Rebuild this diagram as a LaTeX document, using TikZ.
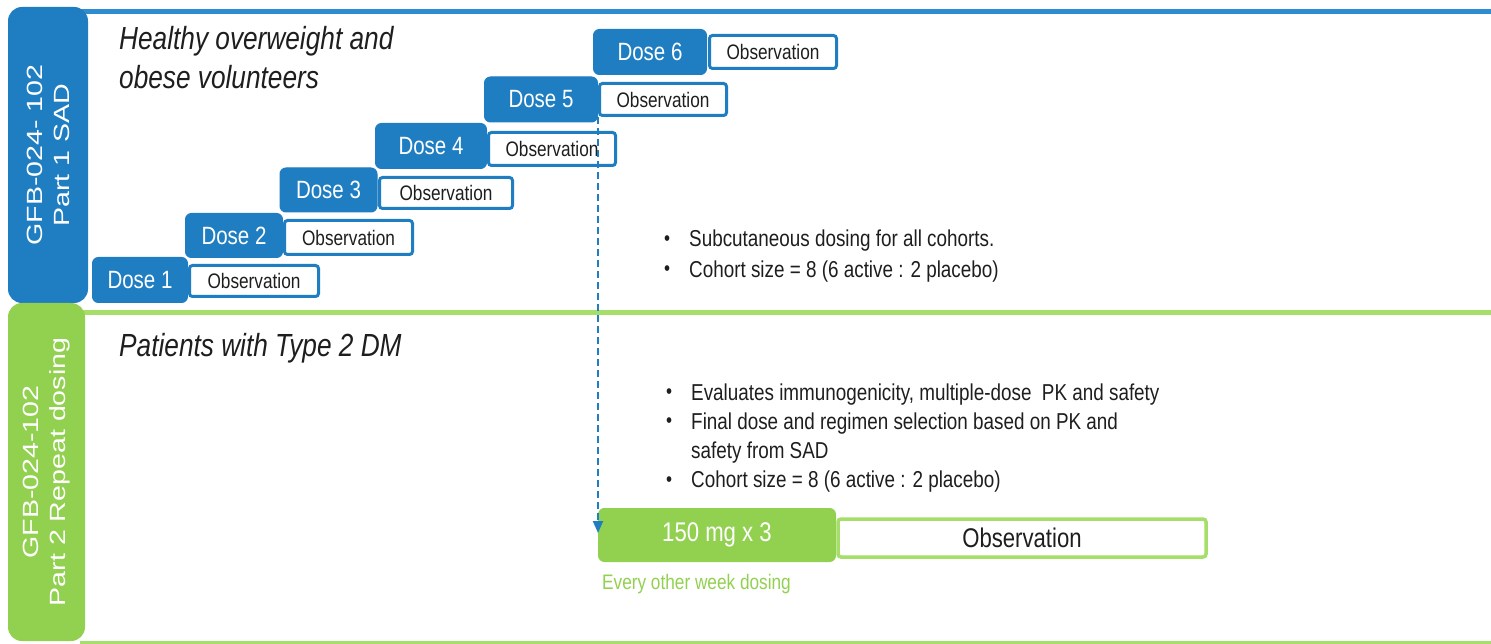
\documentclass[tikz,border=0pt]{standalone}
\usepackage{fontspec}
\setmainfont{Liberation Sans}[FakeStretch=0.82]
\newfontfamily\vertfont{Liberation Sans}[FakeStretch=1.3]
\usetikzlibrary{arrows.meta}
\definecolor{tabblue}{RGB}{31,125,193}
\definecolor{lineblue}{RGB}{45,140,210}
\definecolor{tabgreen}{RGB}{146,208,80}
\definecolor{linegreen}{RGB}{165,222,105}
\definecolor{txtgray}{RGB}{30,30,30}
\newcommand{\bul}{\raisebox{1.5pt}{\fontsize{21}{21}\selectfont\textbullet}}
\begin{document}
\begin{tikzpicture}[x=1pt,y=-1pt,
  tab/.style={rotate=90, rounded corners=14pt, inner sep=0pt, text=white, align=center,
    font=\vertfont\fontsize{22}{27}\selectfont},
  dosebox/.style={fill=tabblue, draw=tabblue, line width=1pt, rounded corners=6pt,
    inner sep=0pt, text=white, font=\fontsize{25}{25}\selectfont},
  obsbox/.style={fill=white, draw=tabblue, line width=3pt, rounded corners=3pt,
    inner sep=0pt, text=txtgray, font=\fontsize{21}{21}\selectfont},
  title/.style={anchor=base west, inner sep=0pt, text=txtgray,
    font=\fontsize{32}{39}\selectfont\itshape},
  bullets/.style={anchor=base west, inner sep=0pt, text=txtgray},
  dasharrow/.style={draw=tabblue, line width=2pt, dash pattern=on 7pt off 4pt,
    -{Triangle[length=12pt,width=10pt]}},
]
\useasboundingbox (0,0) rectangle (1491,644);

% separator lines
\draw[lineblue, line width=4.5pt] (80,11.5) -- (1491,11.5);
\draw[linegreen, line width=5pt] (80,313) -- (1491,313);
\draw[linegreen, line width=3pt] (80,642.5) -- (1491,642.5);

% side tabs
\node[tab, fill=tabblue, minimum width=296pt, minimum height=80pt] (tabA) at (48,155)
  {GFB-024- 102\\Part 1 SAD};
\node[tab, fill=tabgreen, minimum width=338pt, minimum height=77pt] (tabB) at (46.5,472)
  {GFB-024-102\\Part 2 Repeat dosing};

% titles
\node[title] (t1) at (119,50)
  {\begin{tabular}[t]{@{}l@{}}Healthy overweight and\\obese volunteers\end{tabular}};
\node[title] (t2) at (119,356) {Patients with Type 2 DM};

% observation boxes (part 1)
\node[obsbox, minimum width=129pt, minimum height=31pt] (o1) at (254,281) {Observation};
\node[obsbox, minimum width=128pt, minimum height=34pt] (o2) at (348.5,237.5) {Observation};
\node[obsbox, minimum width=133pt, minimum height=31pt] (o3) at (446,193) {Observation};
\node[obsbox, minimum width=127pt, minimum height=33pt] (o4) at (552,149) {Observation};
\node[obsbox, minimum width=127pt, minimum height=32pt] (o5) at (663,99.5) {Observation};
\node[obsbox, minimum width=127pt, minimum height=33pt] (o6) at (773,52) {Observation};

% dose boxes
\node[dosebox, minimum width=95pt, minimum height=45pt] (d1) at (140,280) {Dose 1};
\node[dosebox, minimum width=97pt, minimum height=44pt] (d2) at (234,235.5) {Dose 2};
\node[dosebox, minimum width=97pt, minimum height=44pt] (d3) at (328.5,190) {Dose 3};
\node[dosebox, minimum width=111pt, minimum height=45pt] (d4) at (431,146) {Dose 4};
\node[dosebox, minimum width=113pt, minimum height=45pt] (d5) at (541,99.5) {Dose 5};
\node[dosebox, minimum width=113pt, minimum height=45pt] (d6) at (650,52) {Dose 6};

% bullet texts
\node[bullets, font=\fontsize{23}{30.5}\selectfont] (b1) at (664,247)
  {\begin{tabular}[t]{@{}l@{\hspace{19pt}}l@{}}
   \bul & Subcutaneous dosing for all cohorts.\\
   \bul & Cohort size = 8 (6 active : 2 placebo)
   \end{tabular}};
\node[bullets, font=\fontsize{23}{29.3}\selectfont] (b2) at (666,400)
  {\begin{tabular}[t]{@{}l@{\hspace{19pt}}l@{}}
   \bul & Evaluates immunogenicity, multiple-dose\ \ PK and safety\\
   \bul & Final dose and regimen selection based on PK and\\
        & safety from SAD\\
   \bul & Cohort size = 8 (6 active : 2 placebo)
   \end{tabular}};

% part 2 boxes
\node[fill=white, draw=linegreen, line width=3.5pt, rounded corners=3pt, inner sep=0pt,
  minimum width=368pt, minimum height=38pt, text=txtgray, font=\fontsize{27}{27}\selectfont]
  (o7) at (1022,538) {Observation};
\node[fill=tabgreen, draw=tabgreen, line width=1pt, rounded corners=6pt, inner sep=0pt,
  minimum width=237pt, minimum height=53pt, text=white, font=\fontsize{27}{27}\selectfont]
  (g1) at (717,535) {150 mg x 3};
\node[anchor=base west, inner sep=0pt, text=tabgreen, font=\fontsize{21}{21}\selectfont]
  (lab) at (602,589) {Every other week dosing};

% dashed arrow
\coordinate (arrEnd) at (598,533);
\draw[dasharrow] (o5.south west) -- (o5.south west |- arrEnd);
\end{tikzpicture}
\end{document}
